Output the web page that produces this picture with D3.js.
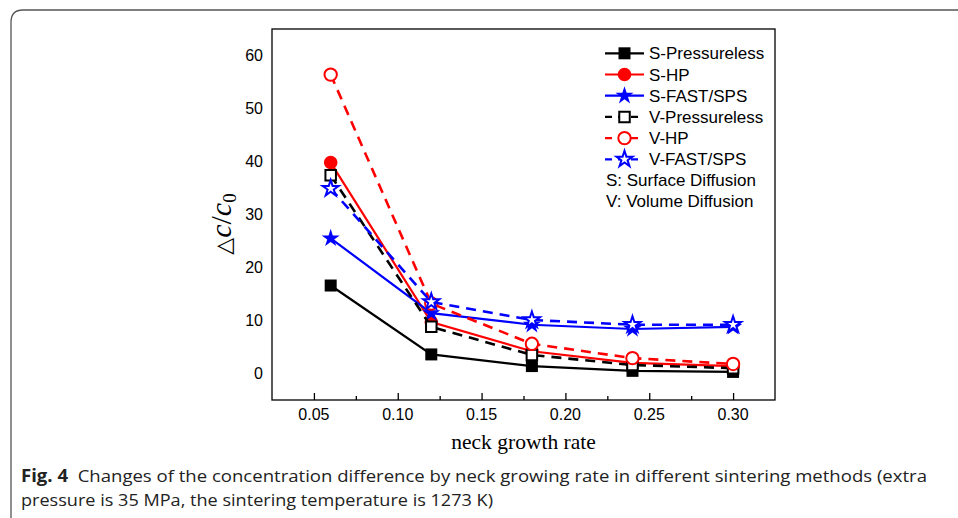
<!DOCTYPE html>
<html>
<head>
<meta charset="utf-8">
<script src="https://cdn.jsdelivr.net/npm/d3@7"></script>
<style>
  html, body { margin: 0; padding: 0; background: #fff; }
  svg { display: block; }
</style>
</head>
<body>
<svg id="chart" width="958" height="518"></svg>
<script>
// ---- data ----
const xValues = [0.06, 0.12, 0.18, 0.24, 0.30];
const sPressureless = [16.6, 3.6, 1.4, 0.5, 0.3];
const sHP = [39.8, 9.7, 4.2, 2.0, 1.4];
const sFast = [25.5, 11.4, 9.2, 8.4, 8.8];
const vPressureless = [37.4, 8.8, 3.5, 1.6, 1.0];
const vHP = [56.4, 13.2, 5.6, 2.9, 1.8];
const vFast = [34.9, 13.5, 10.1, 9.2, 9.2];
const seriesNames = ["S-Pressureless", "S-HP", "S-FAST/SPS", "V-Pressureless", "V-HP", "V-FAST/SPS"];
const legendNotes = ["S: Surface Diffusion", "V: Volume Diffusion"];
const xTicks = [0.05, 0.10, 0.15, 0.20, 0.25, 0.30];
const xMinorTicks = [0.075, 0.125, 0.175, 0.225, 0.275];
const yTicks = [0, 10, 20, 30, 40, 50, 60];
const xTitle = "neck growth rate";
const captionBold = "Fig. 4";
const captionLine1 = "Changes of the concentration difference by neck growing rate in different sintering methods (extra";
const captionLine2 = "pressure is 35 MPa, the sintering temperature is 1273 K)";

// ---- styles ----
const styles = [
  { color: "#000000", dash: null, shape: "square", fill: true },
  { color: "#ff0000", dash: null, shape: "circle", fill: true },
  { color: "#0000ff", dash: null, shape: "star", fill: true },
  { color: "#000000", dash: "10,7", shape: "square", fill: false },
  { color: "#ff0000", dash: "10,7", shape: "circle", fill: false },
  { color: "#0000ff", dash: "10,7", shape: "star", fill: false }
];
const allValues = [sPressureless, sHP, sFast, vPressureless, vHP, vFast];

const svg = d3.select("#chart");

// frame
svg.append("path")
  .attr("d", "M11,520 L11,22 Q11,10 23,10 L960,10")
  .attr("fill", "none").attr("stroke", "#555").attr("stroke-width", 1.3);

const pLeft = 272, pRight = 775, pTop = 29, pBottom = 400;
const x = d3.scaleLinear().domain([0.025, 0.325]).range([pLeft, pRight]);
const y = d3.scaleLinear().domain([-5, 65]).range([pBottom, pTop]);

// plot box
svg.append("rect").attr("x", pLeft).attr("y", pTop)
  .attr("width", pRight - pLeft).attr("height", pBottom - pTop)
  .attr("fill", "none").attr("stroke", "#000").attr("stroke-width", 1.3);

// x axis ticks (inward)
const xAxisG = svg.append("g").attr("transform", `translate(0,${pBottom})`);
xAxisG.call(d3.axisTop(x).tickValues(xTicks).tickSize(7).tickFormat(""))
  .call(g => g.select(".domain").remove());
xAxisG.selectAll("line").attr("stroke-width", 1.3);
const xMinorG = svg.append("g").attr("transform", `translate(0,${pBottom})`);
xMinorG.call(d3.axisTop(x).tickValues(xMinorTicks).tickSize(4).tickFormat(""))
  .call(g => g.select(".domain").remove());
xMinorG.selectAll("line").attr("stroke-width", 1.3);

// x tick labels
svg.append("g").selectAll("text").data(xTicks).join("text")
  .attr("x", d => x(d)).attr("y", pBottom + 19.5)
  .attr("text-anchor", "middle")
  .attr("font-family", "Liberation Sans, Arial, sans-serif")
  .attr("font-size", 16).attr("fill", "#000")
  .text(d => d3.format(".2f")(d));

// y tick labels (no tick marks)
svg.append("g").selectAll("text").data(yTicks).join("text")
  .attr("x", pLeft - 9).attr("y", d => y(d) + 5.5)
  .attr("text-anchor", "end")
  .attr("font-family", "Liberation Sans, Arial, sans-serif")
  .attr("font-size", 16).attr("fill", "#000")
  .text(d => d);

// axis titles
svg.append("text").attr("x", (pLeft + pRight) / 2).attr("y", 449)
  .attr("text-anchor", "middle")
  .attr("font-family", "Liberation Serif, Times New Roman, serif")
  .attr("font-size", 21.5).attr("fill", "#000")
  .text(xTitle);

const yt = svg.append("text")
  .attr("transform", "translate(231,224) rotate(-90)")
  .attr("text-anchor", "middle")
  .attr("font-family", "Liberation Serif, Times New Roman, serif")
  .attr("font-size", 30).attr("fill", "#000");
yt.append("tspan").attr("font-family", "DejaVu Sans, sans-serif").attr("font-size", 22).text("\u25B3");
yt.append("tspan").attr("font-style", "italic").text("c");
yt.append("tspan").text("/");
yt.append("tspan").attr("font-style", "italic").text("c");
yt.append("tspan").attr("font-size", 19).attr("dy", 5).text("0");

// marker helper
function markerPath(shape) {
  if (shape === "square") return d3.symbol().type(d3.symbolSquare).size(12 * 12)();
  if (shape === "circle") return d3.symbol().type(d3.symbolCircle).size(Math.PI * 6.8 * 6.8)();
  return d3.symbol().type(d3.symbolStar).size(9.5 * 9.5 / 0.8908130915292852)();
}
function openMarkerPath(shape) {
  if (shape === "square") return d3.symbol().type(d3.symbolSquare).size(10.5 * 10.5)();
  if (shape === "circle") return d3.symbol().type(d3.symbolCircle).size(Math.PI * 6.2 * 6.2)();
  return d3.symbol().type(d3.symbolStar).size(8.5 * 8.5 / 0.8908130915292852)();
}
function drawMarker(g, s, cx, cy) {
  if (s.fill) {
    g.append("path").attr("d", markerPath(s.shape))
      .attr("transform", `translate(${cx},${cy})`)
      .attr("fill", s.color).attr("stroke", "none");
  } else {
    g.append("path").attr("d", openMarkerPath(s.shape))
      .attr("transform", `translate(${cx},${cy})`)
      .attr("fill", "#fff").attr("stroke", s.color).attr("stroke-width", 2);
  }
}

const line = d3.line().x(d => x(d[0])).y(d => y(d[1]));
const plotG = svg.append("g");
allValues.forEach((vals, i) => {
  const s = styles[i];
  const pts = xValues.map((xv, j) => [xv, vals[j]]);
  const g = plotG.append("g");
  g.append("path").datum(pts).attr("d", line)
    .attr("fill", "none").attr("stroke", s.color)
    .attr("stroke-width", s.dash ? 2.6 : 2.2)
    .attr("stroke-dasharray", s.dash);
  pts.forEach(p => drawMarker(g, s, x(p[0]), y(p[1])));
});

// legend
const legG = svg.append("g");
const legX0 = 605, legX1 = 644, legTextX = 649, legY0 = 53.3, legDy = 21.2;
seriesNames.forEach((name, i) => {
  const s = styles[i];
  const cy = legY0 + i * legDy;
  legG.append("line").attr("x1", legX0).attr("x2", legX1).attr("y1", cy).attr("y2", cy)
    .attr("stroke", s.color).attr("stroke-width", 2.2)
    .attr("stroke-dasharray", s.dash ? "7,6" : null);
  drawMarker(legG, s, (legX0 + legX1) / 2, cy);
  legG.append("text").attr("x", legTextX).attr("y", cy + 6)
    .attr("font-family", "Liberation Sans, Arial, sans-serif")
    .attr("font-size", 17).attr("fill", "#000").text(name);
});
legendNotes.forEach((t, k) => {
  const cy = legY0 + (6 + k) * legDy - 0.5;
  legG.append("text").attr("x", 606).attr("y", cy + 6)
    .attr("font-family", "Liberation Sans, Arial, sans-serif")
    .attr("font-size", 17).attr("fill", "#000").text(t);
});

// caption
const cap1 = svg.append("text").attr("x", 21).attr("y", 482)
  .attr("font-family", "Open Sans, Noto Sans, sans-serif")
  .attr("font-size", 17).attr("fill", "#222")
  .attr("textLength", 906).attr("lengthAdjust", "spacingAndGlyphs");
cap1.append("tspan").attr("font-weight", "bold").text(captionBold);
cap1.append("tspan").text("\u00A0\u00A0" + captionLine1);
svg.append("text").attr("x", 21).attr("y", 506)
  .attr("font-family", "Open Sans, Noto Sans, sans-serif")
  .attr("font-size", 17).attr("fill", "#222")
  .attr("textLength", 472).attr("lengthAdjust", "spacingAndGlyphs")
  .text(captionLine2);
</script>
</body>
</html>
